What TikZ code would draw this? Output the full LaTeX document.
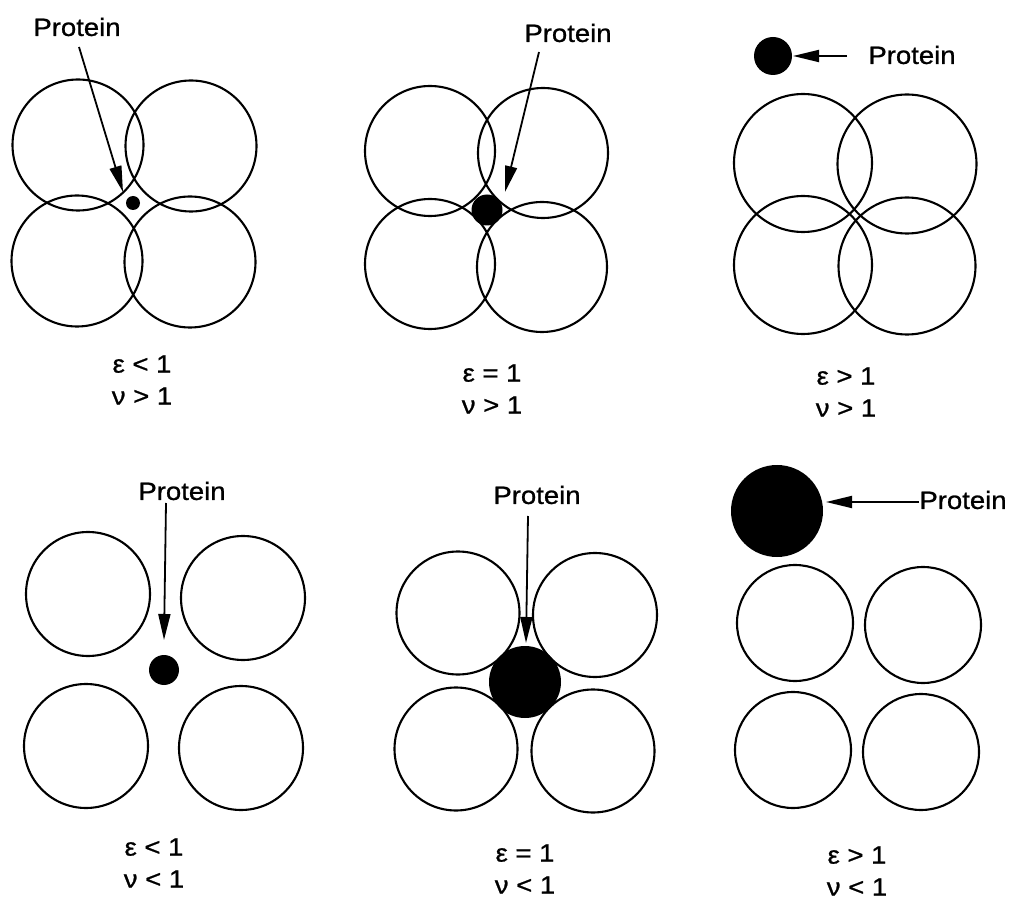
\documentclass[tikz,border=0pt]{standalone}
\usepackage{fontspec}
\setmainfont[FakeStretch=1.1,FakeBold=0.9]{Liberation Sans}
\usetikzlibrary{arrows.meta}
\begin{document}
\begin{tikzpicture}[x=1pt,y=-1pt,
  ring/.style={draw=black,line width=2.1pt},
  protein/.style={circle,fill=black,inner sep=0pt,outer sep=0pt},
  ptext/.style={font=\fontsize{25}{30}\selectfont,inner sep=0pt},
  cond/.style={font=\fontsize{25}{32}\selectfont,align=center,inner sep=0pt},
  parrow/.style={line width=1.8pt,-{Triangle[length=26pt,width=12pt]}}]
\useasboundingbox[fill=white] (0,0) rectangle (1013,901);

% ---------- protein particles ----------
\node[protein,minimum size=14pt] (p1) at (133,203) {};
\node[protein,minimum size=31pt] (p2) at (487,210) {};
\node[protein,minimum size=38pt] (p3) at (773,56) {};
\node[protein,minimum size=30pt] (p4) at (164,670) {};
\node[protein,minimum size=72pt] (p5) at (525,682) {};
\node[protein,minimum size=92pt] (p6) at (777,511) {};

% ---------- panel 1 : eps<1, nu>1 ----------
\draw[ring] (78,145) circle [radius=65.5];
\draw[ring] (191,146) circle [radius=65.5];
\draw[ring] (77,261) circle [radius=65.5];
\draw[ring] (190,262) circle [radius=65.5];
% ---------- panel 2 : eps=1, nu>1 ----------
\draw[ring] (430,151) circle [radius=65];
\draw[ring] (543,153) circle [radius=65];
\draw[ring] (430,264) circle [radius=65];
\draw[ring] (542,267) circle [radius=65];
% ---------- panel 3 : eps>1, nu>1 ----------
\draw[ring] (803,163) circle [radius=69];
\draw[ring] (907,164) circle [radius=69.5];
\draw[ring] (803,265) circle [radius=69];
\draw[ring] (907,266) circle [radius=68.5];
% ---------- panel 4 : eps<1, nu<1 ----------
\draw[ring] (88,594) circle [radius=62];
\draw[ring] (243,598) circle [radius=62];
\draw[ring] (86,746) circle [radius=62];
\draw[ring] (241,748) circle [radius=62];
% ---------- panel 5 : eps=1, nu<1 ----------
\draw[ring] (458,613) circle [radius=61.5];
\draw[ring] (595,615) circle [radius=62];
\draw[ring] (456,749) circle [radius=61.5];
\draw[ring] (593,751) circle [radius=61.5];
% ---------- panel 6 : eps>1, nu<1 ----------
\draw[ring] (795,623) circle [radius=58];
\draw[ring] (923,625) circle [radius=58];
\draw[ring] (793,750) circle [radius=58];
\draw[ring] (921,752) circle [radius=58];

% ---------- "Protein" labels ----------
\node[ptext] (t1) at (77,27) {Protein};
\node[ptext] (t2) at (568,33) {Protein};
\node[ptext] (t3) at (912,55) {Protein};
\node[ptext] (t4) at (182,491) {Protein};
\node[ptext] (t5) at (537,495) {Protein};
\node[ptext] (t6) at (963,500) {Protein};

% ---------- arrows ----------
\coordinate (s1) at (79,47);   \coordinate (e1) at (123,192);
\coordinate (s2) at (539,52);  \coordinate (e2) at (505,192);
\coordinate (s3) at (847,56);  \coordinate (e3) at (793,56);
\coordinate (s4) at (166,503); \coordinate (e4) at (164,640);
\coordinate (s5) at (528,516); \coordinate (e5) at (526,643);
\coordinate (s6) at (919,502); \coordinate (e6) at (826,502);
\draw[parrow] (s1) -- (e1);
\draw[parrow] (s2) -- (e2);
\draw[parrow] (s3) -- (e3);
\draw[parrow] (s4) -- (e4);
\draw[parrow] (s5) -- (e5);
\draw[parrow] (s6) -- (e6);

% ---------- condition labels ----------
\node[cond] (c1) at (142,380) {ε < 1\\ν > 1};
\node[cond] (c2) at (492,389) {ε = 1\\ν > 1};
\node[cond] (c3) at (846,392) {ε > 1\\ν > 1};
\node[cond] (c4) at (154,863) {ε < 1\\ν < 1};
\node[cond] (c5) at (525,869) {ε = 1\\ν < 1};
\node[cond] (c6) at (857,871) {ε > 1\\ν < 1};
\end{tikzpicture}
\end{document}
